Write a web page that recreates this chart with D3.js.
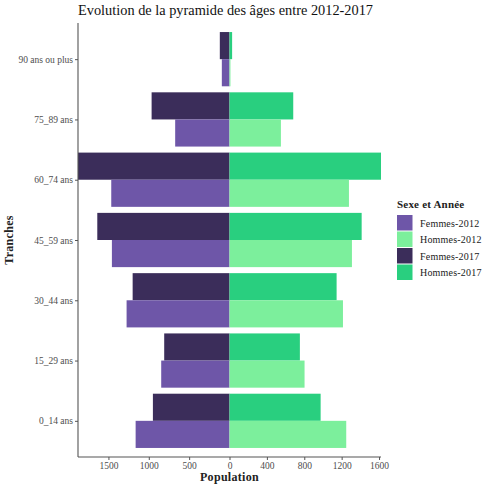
<!DOCTYPE html>
<html>
<head>
<meta charset="utf-8">
<script src="https://cdn.jsdelivr.net/npm/d3@7"></script>
<style>
  body { margin: 0; background: #fff; }
  svg { display: block; font-family: "Liberation Serif", "DejaVu Serif", serif; }
</style>
</head>
<body>
<div id="chart"></div>
<script>
// age bands, top to bottom
const tranches = ['90 ans ou plus', '75_89 ans', '60_74 ans', '45_59 ans', '30_44 ans', '15_29 ans', '0_14 ans'];

// values
const femmes2012 = [95, 673, 1465, 1457, 1275, 846, 1163];
const hommes2012 = [10, 550, 1278, 1310, 1214, 803, 1249];
const femmes2017 = [120, 965, 1877, 1638, 1200, 809, 949];
const hommes2017 = [28, 682, 1621, 1414, 1146, 753, 975];

const leftTicks = [1500, 1000, 500, 0];
const rightTicks = [400, 800, 1200, 1600];

const legendKeys = ['Femmes-2012', 'Hommes-2012', 'Femmes-2017', 'Hommes-2017'];
const colors = {
  'Femmes-2012': '#6e56a8',
  'Hommes-2012': '#7cef9c',
  'Femmes-2017': '#3b2d5a',
  'Hommes-2017': '#29cf7f',
};

const width = 487;
const height = 488;
const margin = { top: 23, right: 106, bottom: 31, left: 78 };
const innerW = width - margin.left - margin.right;
const innerH = height - margin.top - margin.bottom;
const zeroX = margin.left + innerW / 2;

const svg = d3.select('#chart').append('svg')
  .attr('width', width)
  .attr('height', height);

// each side gets its own scale, both ending at the panel edge
const xLeft = d3.scaleLinear()
  .domain([0, d3.max(femmes2012.concat(femmes2017))])
  .range([zeroX, margin.left]);
const xRight = d3.scaleLinear()
  .domain([0, d3.max(hommes2012.concat(hommes2017))])
  .range([zeroX, margin.left + innerW]);

// band with ggplot-like expansion of 0.6 on each side
const step = innerH / (tranches.length - 1 + 1.2);
const y = d3.scalePoint()
  .domain(tranches)
  .range([margin.top + 0.6 * step, margin.top + innerH - 0.6 * step]);
const barH = step * 0.45;

// flatten into rows for drawing
const rows = [];
tranches.forEach((t, i) => {
  rows.push({ t, key: 'Femmes-2017', v: femmes2017[i], side: 'L', off: -1 });
  rows.push({ t, key: 'Hommes-2017', v: hommes2017[i], side: 'R', off: -1 });
  rows.push({ t, key: 'Femmes-2012', v: femmes2012[i], side: 'L', off: 0 });
  rows.push({ t, key: 'Hommes-2012', v: hommes2012[i], side: 'R', off: 0 });
});

svg.append('g')
  .selectAll('rect')
  .data(rows)
  .join('rect')
  .attr('x', d => (d.side === 'L' ? xLeft(d.v) : zeroX))
  .attr('width', d => (d.side === 'L' ? zeroX - xLeft(d.v) : xRight(d.v) - zeroX))
  .attr('y', d => y(d.t) + d.off * barH)
  .attr('height', barH)
  .attr('fill', d => colors[d.key]);

// axes
const axisColor = '#555';
const tickColor = '#4d4d4d';
const fmt = d3.format('d');

const xAxisY = margin.top + innerH;
const gxL = svg.append('g')
  .attr('transform', `translate(0,${xAxisY})`)
  .call(d3.axisBottom(xLeft).tickValues(leftTicks).tickFormat(fmt).tickSize(3).tickPadding(2));
const gxR = svg.append('g')
  .attr('transform', `translate(0,${xAxisY})`)
  .call(d3.axisBottom(xRight).tickValues(rightTicks).tickFormat(fmt).tickSize(3).tickPadding(2));

const gy = svg.append('g')
  .attr('transform', `translate(${margin.left},0)`)
  .call(d3.axisLeft(y).tickSize(3));

[gxL, gxR, gy].forEach((g) => {
  g.select('.domain').remove();
  g.selectAll('.tick line').attr('stroke', axisColor).attr('stroke-width', 1);
  g.selectAll('.tick text')
    .attr('fill', tickColor)
    .style('font-size', '9.5px')
    .style('font-family', '"Liberation Serif", serif');
});
gy.selectAll('.tick text').attr('x', -5);

// axis lines over the whole panel
svg.append('line')
  .attr('x1', margin.left).attr('x2', margin.left + innerW)
  .attr('y1', xAxisY).attr('y2', xAxisY)
  .attr('stroke', axisColor).attr('stroke-width', 1.1);
svg.append('line')
  .attr('x1', margin.left).attr('x2', margin.left)
  .attr('y1', margin.top).attr('y2', xAxisY)
  .attr('stroke', axisColor).attr('stroke-width', 1.1);

// axis titles
svg.append('text')
  .attr('x', zeroX)
  .attr('y', 481)
  .attr('text-anchor', 'middle')
  .attr('fill', '#222')
  .style('font-size', '12px')
  .style('font-weight', 'bold')
  .style('letter-spacing', '0.3px')
  .text('Population');

svg.append('text')
  .attr('transform', `translate(13,${margin.top + innerH / 2}) rotate(-90)`)
  .attr('text-anchor', 'middle')
  .attr('fill', '#222')
  .style('font-size', '12px')
  .style('font-weight', 'bold')
  .style('letter-spacing', '0.3px')
  .text('Tranches');

// title
svg.append('text')
  .attr('x', margin.left)
  .attr('y', 15)
  .attr('fill', '#111')
  .attr('textLength', 295)
  .attr('lengthAdjust', 'spacingAndGlyphs')
  .style('font-size', '15px')
  .text('Evolution de la pyramide des âges entre 2012-2017');

// legend
const legend = svg.append('g').attr('transform', 'translate(397,0)');
legend.append('text')
  .attr('x', 0)
  .attr('y', 208)
  .attr('fill', '#222')
  .style('font-size', '11px')
  .style('font-weight', 'bold')
  .style('letter-spacing', '0.2px')
  .text('Sexe et Année');

const item = legend.selectAll('g.item')
  .data(legendKeys)
  .join('g')
  .attr('class', 'item')
  .attr('transform', (d, i) => `translate(0,${215 + i * 16.5})`);

item.append('rect')
  .attr('width', 15.5)
  .attr('height', 15.5)
  .attr('fill', d => colors[d]);

item.append('text')
  .attr('x', 23)
  .attr('y', 8)
  .attr('dy', '0.35em')
  .attr('fill', '#1a1a1a')
  .style('font-size', '10px')
  .style('letter-spacing', '0.2px')
  .text(d => d);
</script>
</body>
</html>
